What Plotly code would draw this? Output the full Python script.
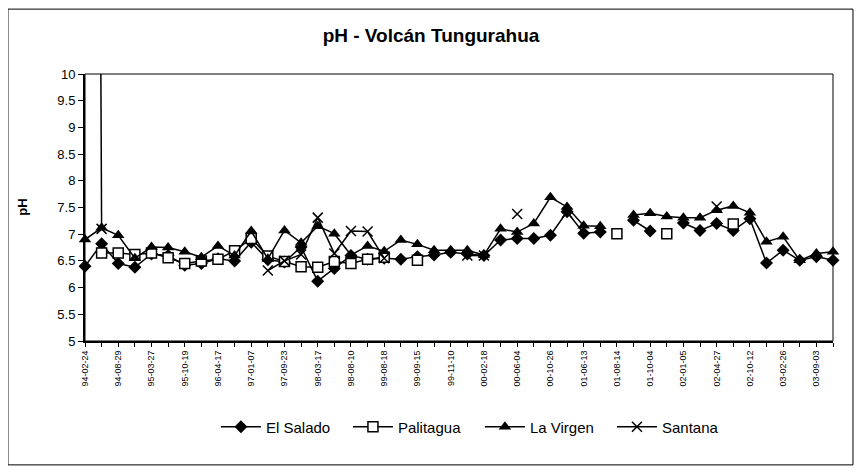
import plotly.graph_objects as go

# Fechas mostradas en el eje (una de cada dos muestras)
date_labels = ['94-02-24', '94-08-29', '95-03-27', '95-10-19', '96-04-17', '97-01-07',
               '97-09-23', '98-03-17', '98-08-10', '99-08-18', '99-09-15', '99-11-10',
               '00-02-18', '00-06-04', '00-10-26', '01-06-13', '01-08-14', '01-10-04',
               '02-01-05', '02-04-27', '02-10-12', '03-02-26', '03-09-03']
n_samples = 46
sample_idx = list(range(n_samples))

el_salado = [6.40, 6.82, 6.45, 6.38, 6.63, 6.60, 6.42, 6.45, 6.54, 6.50,
             6.85, 6.52, 6.48, 6.76, 6.12, 6.36, 6.60, 6.53, 6.55, 6.53,
             6.58, 6.61, 6.66, 6.63, 6.60, 6.89, 6.92, 6.92, 6.98, 7.42,
             7.02, 7.04, None, 7.26, 7.06, None, 7.21, 7.07, 7.20, 7.07,
             7.29, 6.46, 6.70, 6.51, 6.58, 6.51]

palitagua = [None, 6.65, 6.65, 6.62, 6.65, 6.56, 6.45, 6.50, 6.53, 6.69,
             6.92, 6.59, 6.49, 6.39, 6.38, 6.49, 6.45, 6.53, 6.57, None,
             6.51, None, None, None, None, None, None, None, None, None,
             None, None, 7.01, None, None, 7.01, None, None, None, 7.19,
             None, None, None, None, None, None]

la_virgen = [6.90, 7.12, 6.98, 6.55, 6.76, 6.75, 6.67, 6.57, 6.78, 6.60,
             7.06, 6.54, 7.07, 6.84, 7.15, 7.01, 6.61, 6.78, 6.68, 6.89,
             6.81, 6.70, 6.70, 6.70, 6.61, 7.10, 7.04, 7.20, 7.69, 7.51,
             7.16, 7.15, None, 7.36, 7.39, 7.33, 7.31, 7.31, 7.45, 7.53,
             7.40, 6.86, 6.95, 6.51, 6.64, 6.67]

santana = [71.0, 7.10, None, None, None, None, None, None, None, None,
           None, 6.32, 6.50, 6.62, 7.31, 6.64, 7.06, 7.05, 6.55, None,
           None, None, None, 6.60, 6.60, None, 7.38, None, None, 7.40,
           None, None, None, None, None, None, None, None, 7.52, None,
           None, None, None, None, None, None]

FONT = 'Arial, Liberation Sans, sans-serif'

series = [
    ('El Salado', el_salado, dict(symbol='diamond', size=10, color='black')),
    ('Palitagua', palitagua, dict(symbol='square', size=10, color='white', line=dict(color='black', width=1.5))),
    ('La Virgen', la_virgen, dict(symbol='triangle-up', size=11, color='black')),
    ('Santana', santana, dict(symbol='x-thin-open', size=10, color='black', line=dict(color='black', width=1.5))),
]

fig = go.Figure()
for name, vals, mk in series:
    fig.add_trace(go.Scatter(x=sample_idx, y=vals, name=name, mode='lines+markers',
                             line=dict(color='black', width=1.5), marker=mk,
                             connectgaps=False, cliponaxis=False))

tick_text = []
for i in sample_idx:
    tick_text.append(date_labels[i // 2] if i % 2 == 0 else '')

# the page body has an 8px margin, so everything is placed 8px up/left
fig.update_layout(
    width=862, height=475,
    paper_bgcolor='white', plot_bgcolor='white',
    font=dict(family=FONT, color='black'),
    margin=dict(l=77, r=37, t=66, b=142),
    title=dict(text='<b>pH - Volcán Tungurahua</b>', x=423 / 862, xanchor='center', xref='container',
               y=1 - 27 / 475, yanchor='middle', font=dict(size=19, family=FONT, color='black')),
    xaxis=dict(range=[0, n_samples - 1], tickmode='array', tickvals=sample_idx, ticktext=tick_text,
               tickangle=-90, tickfont=dict(size=9, family=FONT), ticks='outside', ticklen=4,
               tickcolor='black', showline=True, linecolor='black', linewidth=2,
               showgrid=False, zeroline=False, automargin=False),
    yaxis=dict(range=[5, 10], dtick=0.5, tick0=5, tickfont=dict(size=13, family=FONT),
               ticks='outside', ticklen=5, tickcolor='black', showline=True, linecolor='black',
               linewidth=2, showgrid=False, zeroline=False, automargin=False),
    legend=dict(orientation='h', x=0.528, xanchor='center', y=-0.322, yanchor='middle',
                font=dict(size=15, family=FONT), bgcolor='rgba(0,0,0,0)', itemwidth=40,
                entrywidth=77, entrywidthmode='pixels'),
    shapes=[
        dict(type='rect', xref='paper', yref='paper', x0=0, x1=1, y0=0, y1=1,
             line=dict(color='black', width=1), layer='below'),
        dict(type='rect', xref='paper', yref='paper', x0=-0.103, x1=1.0267, y0=-0.464, y1=1.243,
             line=dict(color='black', width=1)),
    ],
    annotations=[
        dict(text='<b>pH</b>', xref='paper', yref='paper', x=-0.084, y=0.5, showarrow=False,
             textangle=-90, font=dict(size=13, family=FONT), xanchor='center', yanchor='middle'),
    ],
)

fig.write_html('out.html')
